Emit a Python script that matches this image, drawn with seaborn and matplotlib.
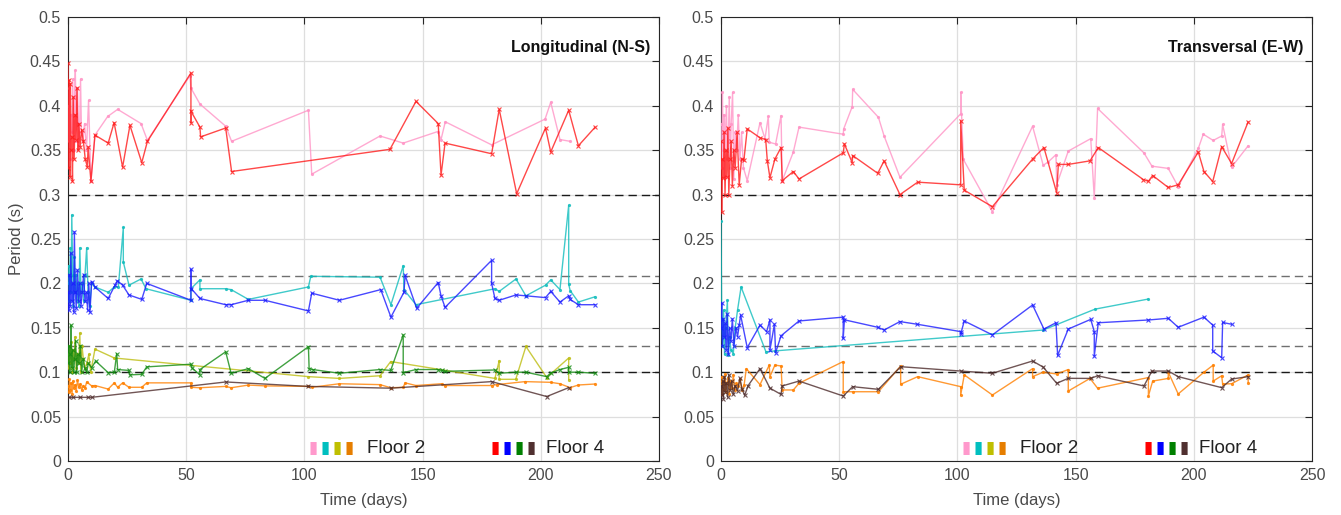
import matplotlib
matplotlib.use("Agg")
import matplotlib.pyplot as plt
import matplotlib.ticker as mticker
import numpy as np
import pandas as pd
import seaborn as sns

# ---------------- data: Longitudinal (N-S) ----------------
ns_pink_days = [0, 0.3, 0.6, 1.0, 1.3, 1.7, 2.0, 2.4, 2.8, 3.1, 3.5, 4.0, 4.4, 4.8, 5.3, 5.7, 6.2, 7.0, 7.8, 8.7,
                9.7, 11.4, 16.8, 21.0, 30.9, 33.6, 51.6, 52.0, 55.8, 66.7, 69.2, 101.7, 103.1, 132.0, 141.8, 156.4,
                157.8, 159.6, 179.2, 201.8, 204.2, 208.1, 212.4]
ns_pink_per = [0.40, 0.36, 0.42, 0.34, 0.39, 0.37, 0.43, 0.35, 0.41, 0.44, 0.36, 0.42, 0.38, 0.355, 0.43, 0.37, 0.36,
               0.38, 0.35, 0.406, 0.315, 0.367, 0.388, 0.396, 0.380, 0.361, 0.434, 0.420, 0.402, 0.377, 0.360, 0.395,
               0.323, 0.366, 0.358, 0.371, 0.362, 0.382, 0.356, 0.385, 0.404, 0.362, 0.360]

ns_red_days = [0, 0.2, 0.5, 0.8, 1.0, 1.3, 1.6, 1.9, 2.2, 2.6, 3.0, 3.4, 3.8, 4.2, 4.6, 5.1, 5.8, 6.5, 7.3, 8.2,
               8.5, 9.7, 11.4, 17.0, 19.5, 23.1, 26.2, 31.2, 33.6, 52.0, 52.0, 52.0, 55.8, 56.1, 66.7, 69.2, 136.2,
               147.2, 156.6, 157.8, 159.5, 179.2, 182.4, 189.8, 202.0, 204.2, 211.8, 215.9, 223.0]
ns_red_per = [0.448, 0.33, 0.429, 0.32, 0.425, 0.35, 0.365, 0.315, 0.41, 0.34, 0.39, 0.362, 0.42, 0.35, 0.38, 0.354,
              0.373, 0.36, 0.34, 0.331, 0.354, 0.315, 0.367, 0.358, 0.381, 0.331, 0.378, 0.336, 0.360, 0.437, 0.381,
              0.394, 0.376, 0.365, 0.375, 0.326, 0.351, 0.405, 0.380, 0.322, 0.358, 0.346, 0.396, 0.301, 0.375,
              0.348, 0.395, 0.355, 0.376]

ns_cyan_days = [0, 0.3, 0.6, 1.0, 1.3, 1.6, 2.0, 2.3, 2.7, 3.0, 3.4, 3.8, 4.2, 4.6, 5.0, 5.5, 6.0, 6.6, 7.2, 7.9,
                8.5, 9.2, 10.0, 11.4, 17.0, 19.6, 21.3, 23.4, 23.4, 25.8, 30.9, 33.0, 52.0, 52.0, 55.8, 55.8, 66.7,
                69.0, 76.3, 101.7, 102.7, 132.0, 136.6, 141.8, 142.1, 147.2, 180.6, 182.4, 189.5, 193.7, 202.0,
                204.2, 208.1, 211.8, 211.8, 212.4, 215.9, 223.0]
ns_cyan_per = [0.20, 0.22, 0.18, 0.24, 0.19, 0.277, 0.21, 0.175, 0.23, 0.19, 0.21, 0.18, 0.20, 0.175, 0.24, 0.19,
               0.20, 0.18, 0.21, 0.24, 0.19, 0.175, 0.20, 0.196, 0.190, 0.196, 0.196, 0.263, 0.224, 0.198, 0.205,
               0.194, 0.181, 0.194, 0.204, 0.194, 0.194, 0.193, 0.182, 0.196, 0.208, 0.207, 0.176, 0.220, 0.193,
               0.176, 0.194, 0.191, 0.205, 0.186, 0.198, 0.204, 0.193, 0.288, 0.199, 0.192, 0.179, 0.185]

ns_blue_days = [0, 0.3, 0.6, 0.9, 1.2, 1.6, 2.0, 2.4, 2.7, 3.1, 3.5, 4.0, 4.5, 5.0, 5.5, 6.0, 6.6, 7.2, 7.8, 8.3,
                8.8, 9.3, 10.0, 11.4, 17.0, 19.9, 20.9, 23.1, 25.8, 31.2, 33.3, 52.0, 52.0, 52.2, 55.8, 66.7, 69.0,
                76.3, 83.3, 101.7, 103.1, 114.8, 132.3, 136.6, 142.1, 142.6, 147.5, 156.6, 157.8, 159.5, 179.2,
                179.2, 180.6, 182.4, 189.5, 193.7, 202.0, 204.2, 208.1, 211.8, 212.4, 215.9, 223.0]
ns_blue_per = [0.19, 0.17, 0.21, 0.175, 0.234, 0.18, 0.20, 0.168, 0.258, 0.19, 0.172, 0.215, 0.18, 0.20, 0.175,
               0.19, 0.21, 0.18, 0.19, 0.17, 0.20, 0.168, 0.202, 0.196, 0.183, 0.198, 0.203, 0.198, 0.187, 0.182,
               0.200, 0.181, 0.216, 0.194, 0.183, 0.176, 0.176, 0.181, 0.181, 0.169, 0.189, 0.181, 0.193, 0.162,
               0.190, 0.209, 0.172, 0.201, 0.186, 0.173, 0.226, 0.200, 0.183, 0.181, 0.187, 0.186, 0.184, 0.191,
               0.179, 0.186, 0.182, 0.176, 0.176]

ns_olive_days = [0, 0.3, 0.7, 1.0, 1.4, 1.8, 2.2, 2.6, 3.0, 3.5, 4.0, 4.5, 5.0, 5.4, 5.9, 6.5, 7.2, 8.0, 8.8, 9.6,
                 11.4, 19.6, 101.7, 114.8, 132.0, 136.5, 180.6, 182.4, 182.4, 189.4, 193.7, 202.5, 211.8, 211.8]
ns_olive_per = [0.12, 0.105, 0.13, 0.11, 0.134, 0.10, 0.125, 0.115, 0.14, 0.105, 0.12, 0.11, 0.144, 0.10, 0.13,
                0.115, 0.105, 0.11, 0.12, 0.10, 0.126, 0.116, 0.095, 0.093, 0.096, 0.112, 0.093, 0.113, 0.092,
                0.092, 0.129, 0.094, 0.116, 0.0915]

ns_green_days = [0, 0.3, 0.7, 1.0, 1.3, 1.6, 2.0, 2.4, 2.8, 3.2, 3.7, 4.2, 4.7, 5.2, 5.8, 6.4, 7.0, 7.9, 8.6, 10.0,
                 11.7, 17.0, 19.6, 20.6, 21.0, 25.8, 26.2, 31.2, 33.3, 52.0, 52.4, 55.8, 55.8, 66.7, 69.0, 76.3,
                 83.3, 101.7, 102.0, 103.5, 114.8, 132.0, 136.5, 141.8, 141.8, 147.2, 156.4, 158.0, 159.5, 180.6,
                 182.4, 189.5, 193.7, 202.5, 204.2, 208.1, 211.8, 211.8, 215.9, 223.0]
ns_green_per = [0.11, 0.13, 0.10, 0.12, 0.153, 0.105, 0.125, 0.10, 0.115, 0.135, 0.10, 0.12, 0.11, 0.13, 0.10,
                0.115, 0.105, 0.10, 0.11, 0.105, 0.1126, 0.0995, 0.10, 0.121, 0.103, 0.102, 0.097, 0.0976, 0.106,
                0.109, 0.105, 0.097, 0.103, 0.123, 0.0988, 0.104, 0.093, 0.1287, 0.104, 0.103, 0.0988, 0.103,
                0.102, 0.142, 0.0995, 0.103, 0.103, 0.102, 0.101, 0.1025, 0.0988, 0.100, 0.100, 0.095, 0.099,
                0.103, 0.1055, 0.100, 0.100, 0.0988]

ns_orange_days = [0, 0.3, 0.6, 1.0, 1.3, 1.7, 2.1, 2.5, 3.0, 3.5, 4.0, 4.6, 5.2, 5.8, 6.5, 7.2, 7.9, 10.0, 11.4,
                  17.0, 19.6, 21.0, 23.1, 25.8, 31.2, 33.3, 52.0, 52.0, 55.8, 66.7, 69.0, 76.3, 83.3, 101.7, 103.1,
                  114.8, 132.0, 136.5, 141.8, 142.6, 147.2, 158.0, 159.5, 179.2, 181.3, 193.3, 204.2, 208.1, 212.4,
                  215.9, 223.0]
ns_orange_per = [0.085, 0.078, 0.092, 0.08, 0.088, 0.076, 0.09, 0.082, 0.086, 0.079, 0.091, 0.083, 0.087, 0.08,
                 0.085, 0.082, 0.089, 0.0846, 0.085, 0.081, 0.088, 0.083, 0.088, 0.083, 0.083, 0.088, 0.088, 0.083,
                 0.0825, 0.084, 0.0825, 0.0855, 0.0846, 0.084, 0.083, 0.087, 0.086, 0.0825, 0.083, 0.088, 0.085,
                 0.087, 0.085, 0.085, 0.086, 0.0894, 0.0886, 0.087, 0.0826, 0.0856, 0.0867]

ns_brown_days = [0.5, 2.0, 5.1, 8.5, 10.0, 66.7, 101.7, 136.5, 179.2, 202.5, 211.8]
ns_brown_per = [0.0717, 0.0717, 0.0717, 0.0717, 0.0717, 0.089, 0.084, 0.082, 0.0894, 0.0726, 0.0826]

# ---------------- data: Transversal (E-W) ----------------
ew_pink_days = [0, 0.3, 0.6, 0.9, 1.2, 1.5, 1.9, 2.3, 2.7, 3.1, 3.5, 3.9, 4.3, 4.9, 5.4, 6.0, 6.6, 7.3, 8.0, 8.7,
                9.5, 11.1, 16.5, 18.6, 20.0, 20.4, 23.1, 25.4, 25.9, 30.6, 33.0, 51.7, 51.9, 55.5, 55.7, 66.6, 69.0,
                75.7, 101.4, 101.4, 102.5, 114.8, 131.8, 136.3, 138.5, 141.7, 142.0, 146.9, 156.4, 157.9, 159.3,
                178.9, 182.3, 189.2, 193.4, 201.9, 204.0, 208.2, 211.8, 212.2, 216.0, 223.0]
ew_pink_per = [0.38, 0.33, 0.415, 0.35, 0.39, 0.32, 0.37, 0.40, 0.34, 0.36, 0.41, 0.33, 0.38, 0.415, 0.318, 0.37,
               0.35, 0.39, 0.34, 0.37, 0.33, 0.3157, 0.381, 0.363, 0.388, 0.359, 0.357, 0.389, 0.3157, 0.348, 0.376,
               0.368, 0.374, 0.399, 0.4185, 0.387, 0.366, 0.3195, 0.391, 0.415, 0.3397, 0.2807, 0.377, 0.333,
               0.337, 0.345, 0.311, 0.349, 0.363, 0.2965, 0.397, 0.347, 0.332, 0.3295, 0.309, 0.352, 0.368, 0.361,
               0.366, 0.379, 0.331, 0.355]

ew_red_days = [0, 0.3, 0.6, 1.0, 1.3, 1.7, 2.1, 2.5, 2.9, 3.3, 3.8, 4.3, 4.8, 5.4, 6.0, 6.8, 7.7, 8.7, 9.7, 11.1,
               16.5, 18.9, 19.6, 20.7, 22.8, 25.4, 25.9, 30.6, 33.0, 51.7, 52.2, 55.5, 55.7, 66.3, 69.0, 75.7, 83.2,
               101.4, 101.4, 102.9, 114.8, 131.8, 136.6, 142.0, 142.7, 146.9, 156.1, 159.6, 178.6, 180.8, 182.6,
               189.2, 193.4, 201.9, 204.3, 208.0, 211.8, 216.0, 223.0]
ew_red_per = [0.36, 0.2807, 0.34, 0.319, 0.37, 0.30, 0.35, 0.32, 0.375, 0.30, 0.34, 0.36, 0.31, 0.35, 0.33, 0.37,
              0.311, 0.34, 0.339, 0.374, 0.364, 0.362, 0.338, 0.319, 0.340, 0.353, 0.3157, 0.326, 0.3176, 0.347,
              0.357, 0.336, 0.344, 0.324, 0.338, 0.300, 0.314, 0.311, 0.383, 0.305, 0.2864, 0.340, 0.353, 0.302,
              0.334, 0.334, 0.338, 0.353, 0.317, 0.315, 0.3215, 0.308, 0.311, 0.348, 0.326, 0.3147, 0.354, 0.335,
              0.382]

ew_cyan_days = [0, 0.3, 0.7, 1.1, 1.5, 2.0, 2.7, 3.1, 3.6, 4.2, 5.2, 6.0, 7.0, 8.5, 19.0, 22.8, 136.3, 158.2, 180.8]
ew_cyan_per = [0.27, 0.16, 0.13, 0.17, 0.12, 0.15, 0.181, 0.119, 0.14, 0.125, 0.121, 0.15, 0.17, 0.196, 0.123,
               0.124, 0.1475, 0.171, 0.1824]

ew_blue_days = [0, 0.3, 0.6, 1.0, 1.4, 1.8, 2.2, 2.6, 3.1, 3.6, 4.2, 4.8, 5.5, 6.3, 7.0, 7.7, 8.3, 11.1, 16.5, 19.3,
                20.7, 20.7, 22.6, 23.1, 25.4, 33.0, 51.7, 51.7, 52.2, 66.3, 69.0, 75.7, 83.0, 101.4, 101.4, 102.9,
                114.8, 131.8, 136.6, 141.7, 142.4, 146.9, 156.4, 157.9, 157.9, 159.6, 180.8, 189.2, 193.4, 204.3,
                208.0, 208.0, 211.8, 212.2, 216.0]
ew_blue_per = [0.15, 0.178, 0.13, 0.16, 0.14, 0.155, 0.125, 0.165, 0.12, 0.15, 0.135, 0.16, 0.13, 0.15, 0.14,
               0.153, 0.1644, 0.1276, 0.153, 0.1457, 0.159, 0.125, 0.154, 0.122, 0.141, 0.1577, 0.162, 0.138, 0.159,
               0.1506, 0.1475, 0.157, 0.154, 0.1457, 0.143, 0.1577, 0.142, 0.1757, 0.1486, 0.1557, 0.119, 0.1486,
               0.1595, 0.1457, 0.118, 0.1557, 0.1588, 0.1607, 0.1506, 0.162, 0.153, 0.1239, 0.1163, 0.156, 0.154]

ew_orange_days = [0, 0.3, 0.6, 0.9, 1.3, 1.7, 2.1, 2.5, 3.0, 3.5, 4.0, 4.6, 5.2, 5.8, 6.5, 7.2, 8.0, 8.9, 9.8, 10.7,
                  16.5, 20.4, 20.7, 22.8, 25.4, 25.9, 30.6, 33.0, 51.7, 51.7, 55.7, 66.6, 76.0, 76.0, 83.2, 101.4,
                  101.4, 102.9, 114.8, 131.8, 131.8, 136.3, 142.0, 146.9, 146.9, 156.1, 159.3, 180.8, 180.8, 182.6,
                  189.2, 189.2, 193.4, 204.3, 208.2, 208.2, 211.8, 212.2, 216.0, 223.0, 223.0]
ew_orange_per = [0.085, 0.095, 0.075, 0.09, 0.08, 0.098, 0.078, 0.088, 0.093, 0.076, 0.09, 0.082, 0.097, 0.08,
                 0.088, 0.084, 0.092, 0.08, 0.086, 0.104, 0.086, 0.108, 0.095, 0.108, 0.107, 0.080, 0.080, 0.0875,
                 0.112, 0.078, 0.078, 0.078, 0.107, 0.0864, 0.095, 0.0837, 0.0743, 0.097, 0.0743, 0.104, 0.095, 0.1,
                 0.098, 0.103, 0.0788, 0.093, 0.082, 0.094, 0.0733, 0.090, 0.093, 0.1, 0.0755, 0.1, 0.108, 0.09,
                 0.096, 0.0867, 0.087, 0.097, 0.088]

ew_brown_days = [0, 0.3, 0.7, 1.0, 1.4, 1.8, 2.3, 2.8, 3.3, 3.9, 4.5, 5.2, 6.0, 7.0, 8.0, 8.9, 10.0, 11.5, 16.5,
                 20.7, 25.4, 25.9, 33.0, 51.7, 55.7, 66.6, 76.0, 101.4, 114.8, 131.8, 136.3, 142.0, 146.9, 156.4,
                 159.3, 178.9, 182.3, 189.2, 193.4, 211.8, 216.0, 223.0]
ew_brown_per = [0.085, 0.0743, 0.09, 0.07, 0.095, 0.078, 0.088, 0.072, 0.097, 0.08, 0.09, 0.075, 0.085, 0.079,
                0.093, 0.081, 0.074, 0.085, 0.104, 0.082, 0.075, 0.0845, 0.09, 0.0732, 0.0837, 0.0807, 0.1062,
                0.1013, 0.0988, 0.1126, 0.1057, 0.0875, 0.0931, 0.093, 0.096, 0.0845, 0.1013, 0.1013, 0.095,
                0.0826, 0.0923, 0.095]

reference_levels = [0.3, 0.208, 0.13, 0.1]
panel_titles = ["Longitudinal (N-S)", "Transversal (E-W)"]
legend_labels = ["Floor 2", "Floor 4"]
x_ticks = [0, 50, 100, 150, 200, 250]
y_ticks = [0, 0.05, 0.1, 0.15, 0.2, 0.25, 0.3, 0.35, 0.4, 0.45, 0.5]

# ---------------- styles ----------------
C_PINK, C_RED = "#FF94C6", "#FF1A1A"
C_CYAN, C_BLUE = "#10BDBD", "#1A1AFF"
C_OLIVE, C_GREEN = "#BDBD10", "#118A11"
C_ORANGE, C_BROWN = "#FF8000", "#4D2B2B"
floor2_colors = ["#FF99CC", "#00BFBF", "#BFBF00", "#E67E00"]
floor4_colors = ["#FF0000", "#0000FF", "#008000", "#503030"]

sns.set_theme(style="whitegrid")
plt.rcParams["font.family"] = ["Liberation Sans", "DejaVu Sans"]

fig = plt.figure(figsize=(13.41, 5.15), dpi=100)
W, H = 1341, 515
axL = fig.add_axes([68 / W, 54 / H, 591 / W, 444 / H])
axR = fig.add_axes([721 / W, 54 / H, 591 / W, 444 / H])

ns_series = [
    (ns_pink_days, ns_pink_per, C_PINK, "."),
    (ns_red_days, ns_red_per, C_RED, "x"),
    (ns_cyan_days, ns_cyan_per, C_CYAN, "."),
    (ns_blue_days, ns_blue_per, C_BLUE, "x"),
    (ns_olive_days, ns_olive_per, C_OLIVE, "."),
    (ns_green_days, ns_green_per, C_GREEN, "x"),
    (ns_orange_days, ns_orange_per, C_ORANGE, "."),
    (ns_brown_days, ns_brown_per, C_BROWN, "x"),
]
ew_series = [
    (ew_pink_days, ew_pink_per, C_PINK, "."),
    (ew_red_days, ew_red_per, C_RED, "x"),
    (ew_cyan_days, ew_cyan_per, C_CYAN, "."),
    (ew_blue_days, ew_blue_per, C_BLUE, "x"),
    (ew_orange_days, ew_orange_per, C_ORANGE, "."),
    (ew_brown_days, ew_brown_per, C_BROWN, "x"),
]


def draw_panel(ax, series, title, ylabel):
    for lvl in reference_levels:
        col = "#1a1a1a" if lvl in (0.3, 0.1) else "#707070"
        ax.axhline(lvl, color=col, lw=1.0, ls=(0, (6, 3.6)), zorder=1)
    for days, per, col, mk in series:
        df = pd.DataFrame({"day": days, "period": per})
        ms = 3.0 if mk == "." else 2.6
        sns.lineplot(data=df, x="day", y="period", ax=ax, sort=False, estimator=None,
                     color=col, lw=1.0, alpha=0.8, marker=mk, markersize=ms,
                     markeredgewidth=0.8, markeredgecolor=col, zorder=3)
    ax.set_xlim(0, 250)
    ax.set_ylim(0, 0.5)
    ax.set_xticks(x_ticks)
    ax.set_yticks(y_ticks)
    ax.yaxis.set_major_formatter(mticker.FuncFormatter(lambda v, p: f"{v:g}"))
    ax.grid(True, color="#DEDEDE", lw=0.9)
    ax.set_axisbelow(True)
    for s in ax.spines.values():
        s.set_visible(True)
        s.set_color("#262626")
        s.set_linewidth(0.8)
    ax.tick_params(direction="in", length=5, width=0.8, top=True, right=True,
                   colors="#262626", labelcolor="#4a4a4a", labelsize=11.5, pad=5)
    ax.set_facecolor("white")
    ax.set_xlabel("Time (days)", fontsize=12, color="#4a4a4a", labelpad=7)
    ax.set_ylabel(ylabel, fontsize=12, color="#4a4a4a", labelpad=4)
    ax.text(0.986, 0.932, title, transform=ax.transAxes, ha="right", va="center",
            fontsize=11.5, fontweight="bold", color="#111111")
    # manual legend: coloured blocks + text
    y0 = 0.029
    for i, c in enumerate(floor2_colors):
        ax.text(0.4146 + i * 0.0205, y0, "\u25AE", transform=ax.transAxes, ha="center",
                va="center", fontsize=12, color=c, family="DejaVu Sans")
    ax.text(0.506, y0, legend_labels[0], transform=ax.transAxes, ha="left", va="center",
            fontsize=13.5, color="#222222")
    for i, c in enumerate(floor4_colors):
        ax.text(0.7225 + i * 0.0205, y0, "\u25AE", transform=ax.transAxes, ha="center",
                va="center", fontsize=12, color=c, family="DejaVu Sans")
    ax.text(0.809, y0, legend_labels[1], transform=ax.transAxes, ha="left", va="center",
            fontsize=13.5, color="#222222")


draw_panel(axL, ns_series, panel_titles[0], "Period (s)")
draw_panel(axR, ew_series, panel_titles[1], "")

fig.savefig("out.png", dpi=100, facecolor="white")
